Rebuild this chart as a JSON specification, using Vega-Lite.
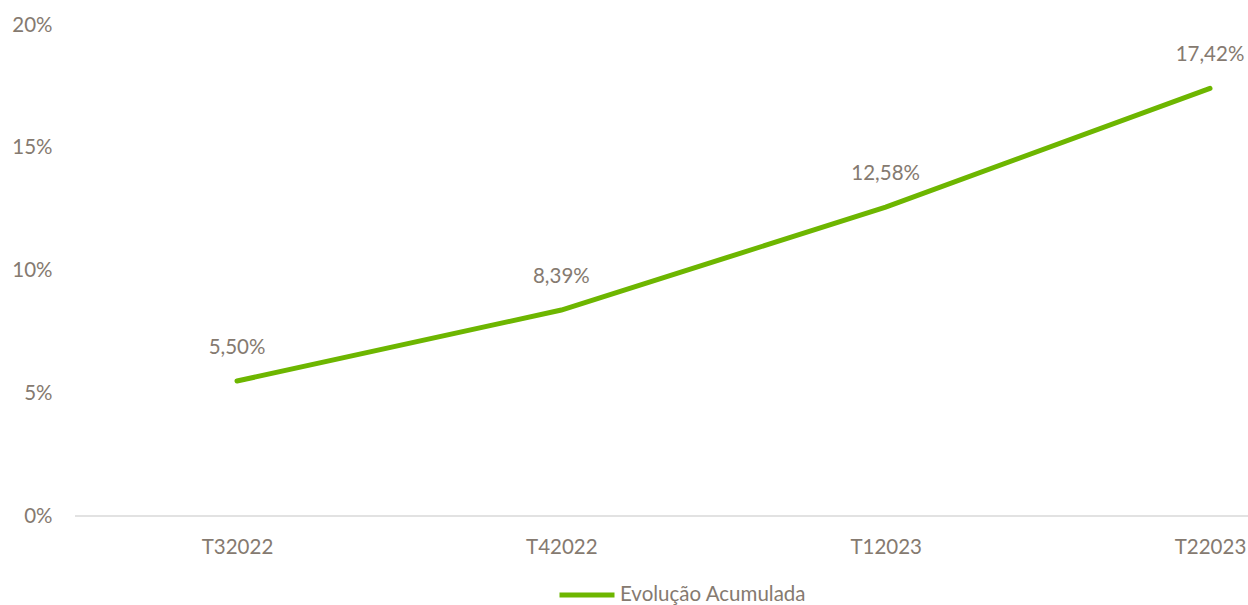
{
  "$schema": "https://vega.github.io/schema/vega-lite/v6.json",
  "autosize": "none",
  "width": 1173,
  "height": 491,
  "padding": {"left": 75, "top": 25, "right": 0, "bottom": 89},
  "config": {
    "view": {"stroke": null},
    "font": "Lato",
    "locale": {"number": {"decimal": ",", "thousands": ".", "grouping": [3], "currency": ["", " €"]}}
  },
  "data": {"values": [
    {"trimestre": "T32022", "valor": 0.055, "serie": "Evolução Acumulada"},
    {"trimestre": "T42022", "valor": 0.0839, "serie": "Evolução Acumulada"},
    {"trimestre": "T12023", "valor": 0.1258, "serie": "Evolução Acumulada"},
    {"trimestre": "T22023", "valor": 0.1742, "serie": "Evolução Acumulada"}
  ]},
  "encoding": {
    "x": {"field": "trimestre", "type": "ordinal", "sort": null,
      "scale": {"type": "point", "range": [162, 1135], "padding": 0},
      "axis": {"title": null, "domain": false, "ticks": false, "labelAngle": 0, "labelPadding": 21, "labelFontSize": 20.5, "labelColor": "#857a70", "labelFont": "Lato"}},
    "y": {"field": "valor", "type": "quantitative",
      "scale": {"domain": [0, 0.2]},
      "axis": {"title": null, "format": ".0%", "values": [0, 0.05, 0.1, 0.15, 0.2], "domain": false, "ticks": false, "grid": false, "labelPadding": 23, "labelFontSize": 20.5, "labelColor": "#857a70", "labelFont": "Lato"}}
  },
  "layer": [
    {"mark": {"type": "rule", "color": "#d9d9d9", "strokeWidth": 1.5},
     "data": {"values": [{"z": 0}]},
     "encoding": {"y": {"field": "z", "type": "quantitative"}, "x": null}},
    {"mark": {"type": "line", "strokeWidth": 5, "strokeCap": "round"},
     "encoding": {"color": {"field": "serie", "type": "nominal",
       "scale": {"range": ["#6db600"]},
       "legend": {"title": null, "orient": "none", "legendX": 482, "legendY": 540, "symbolType": "stroke", "symbolSize": 3025, "symbolStrokeWidth": 5, "labelFontSize": 20.5, "labelColor": "#857a70", "labelFont": "Lato", "labelOffset": 3, "labelLimit": 400}}}},
    {"mark": {"type": "text", "dy": -33, "fontSize": 20.5, "color": "#857a70", "font": "Lato"},
     "encoding": {"text": {"field": "valor", "type": "quantitative", "format": ".2%"}}}
  ]
}
